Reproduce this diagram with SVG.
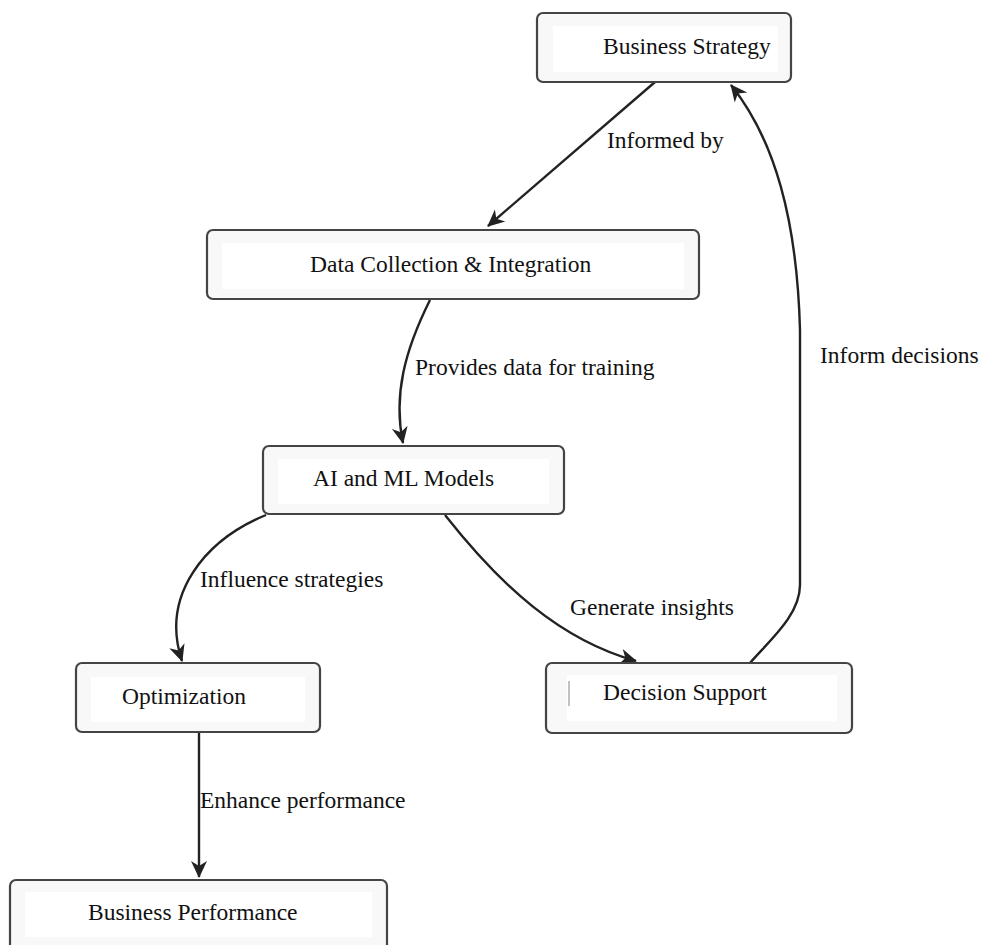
<svg xmlns="http://www.w3.org/2000/svg" width="984" height="945" viewBox="0 0 984 945">
<style>
.box{fill:#f8f8f8;stroke:#444;stroke-width:2.2}
.inner{fill:#ffffff;stroke:none}
.lbl{font-family:"Liberation Serif","Times New Roman",serif;font-size:23.5px;fill:#111}
.edge{fill:none;stroke:#222;stroke-width:2.4}
</style>
<defs>
<marker id="arr" viewBox="0 0 20 20" refX="17" refY="10" markerWidth="20" markerHeight="20" markerUnits="userSpaceOnUse" orient="auto">
<path d="M1,2 L18,10 L1,18 L6,10 Z" fill="#222"/>
</marker>
</defs>
<rect width="984" height="945" fill="#ffffff"/>
<g id="edges">
<path class="edge" d="M655,82 L488,226" marker-end="url(#arr)"/>
<text class="lbl" x="607" y="148">Informed by</text>
<path class="edge" d="M430,300 C405,350 393,395 403,443" marker-end="url(#arr)"/>
<text class="lbl" x="415" y="375">Provides data for training</text>
<path class="edge" d="M266,515 C205,540 160,595 182,661" marker-end="url(#arr)"/>
<text class="lbl" x="200" y="587">Influence strategies</text>
<path class="edge" d="M445,515 C500,585 560,640 636,661" marker-end="url(#arr)"/>
<text class="lbl" x="570" y="615">Generate insights</text>
<path class="edge" d="M750,663 C770,640 800,615 800,585 L800,330 C797,220 775,140 731,85" marker-end="url(#arr)"/>
<text class="lbl" x="820" y="363">Inform decisions</text>
<path class="edge" d="M199,732 L199,877" marker-end="url(#arr)"/>
<text class="lbl" x="200" y="808">Enhance performance</text>
</g>
<g id="business-strategy">
<rect class="box" x="537" y="13" width="254" height="69" rx="6"/>
<rect class="inner" x="553" y="26" width="225" height="46"/>
<text class="lbl" x="603" y="54">Business Strategy</text>
</g>
<g id="data-collection">
<rect class="box" x="207" y="230" width="492" height="69" rx="6"/>
<rect class="inner" x="222" y="243" width="462" height="46"/>
<text class="lbl" x="310" y="272">Data Collection &amp; Integration</text>
</g>
<g id="ai-ml">
<rect class="box" x="263" y="446" width="301" height="68" rx="6"/>
<rect class="inner" x="278" y="459" width="271" height="45"/>
<text class="lbl" x="313" y="486">AI and ML Models</text>
</g>
<g id="optimization">
<rect class="box" x="76" y="663" width="244" height="69" rx="6"/>
<rect class="inner" x="91" y="677" width="214" height="45"/>
<text class="lbl" x="122" y="704">Optimization</text>
</g>
<g id="decision-support">
<rect class="box" x="546" y="663" width="306" height="70" rx="6"/>
<rect class="inner" x="567" y="675" width="270" height="46"/>
<line x1="569" y1="681" x2="569" y2="706" stroke="#999" stroke-width="1.2"/>
<text class="lbl" x="603" y="700">Decision Support</text>
</g>
<g id="business-performance">
<rect class="box" x="10" y="880" width="377" height="90" rx="6"/>
<rect class="inner" x="25" y="892" width="347" height="45"/>
<text class="lbl" x="88" y="920">Business Performance</text>
</g>
</svg>
